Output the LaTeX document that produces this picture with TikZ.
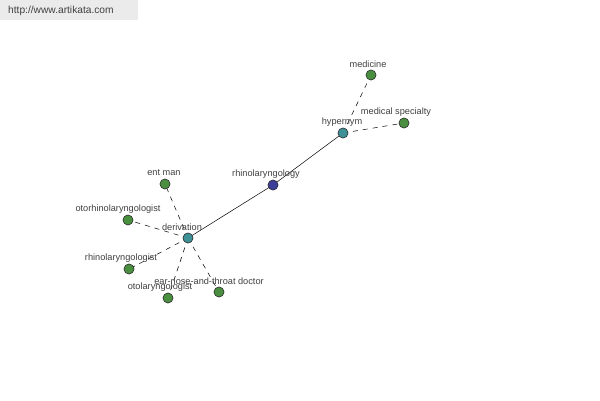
\documentclass[tikz,border=0pt]{standalone}
\usepackage{fontspec}
\setmainfont{Liberation Sans}
\definecolor{leafc}{HTML}{4A8F40}
\definecolor{relc}{HTML}{3E9297}
\definecolor{rootc}{HTML}{3C3E9A}
\definecolor{txtc}{HTML}{404040}
\definecolor{boxc}{HTML}{EBEBEB}
\tikzset{
  dot/.style={circle,draw=black!80,line width=0.5pt,minimum size=10pt,inner sep=0pt},
  leaf/.style={dot,fill=leafc},
  rel/.style={dot,fill=relc},
  root/.style={dot,fill=rootc},
  lbl/.style={text=txtc,font=\fontsize{9.2}{10}\selectfont,inner sep=0pt},
  solidedge/.style={draw=black,line width=0.5pt},
  dashedge/.style={draw=black,line width=0.5pt,dash pattern=on 5pt off 5pt}
}
\begin{document}
\begin{tikzpicture}[x=1pt,y=-1pt]
\useasboundingbox (0,0) rectangle (600,400);
\fill[white] (0,0) rectangle (600,400);
\fill[boxc] (0,0) rectangle (138,20);
\node[text=txtc,font=\fontsize{10.2}{11}\selectfont,anchor=west,inner sep=0pt] (url) at (8,11) {http://www.artikata.com};

\node[leaf] (medicine) at (371,75) {};
\node[leaf] (medspec) at (404,123) {};
\node[rel] (hypernym) at (343,133) {};
\node[root] (rhino) at (273,185) {};
\node[leaf] (entman) at (165,184) {};
\node[leaf] (otorhino) at (128,220) {};
\node[rel] (derivation) at (188,238) {};
\node[leaf] (rhinologist) at (129,269) {};
\node[leaf] (otolaryn) at (168,298) {};
\node[leaf] (ent) at (219,292) {};

\path[solidedge] (derivation.center) -- (rhino.center) -- (hypernym.center);
\path[dashedge] (hypernym.center) -- (medicine.center);
\path[dashedge] (hypernym.center) -- (medspec.center);
\path[dashedge] (derivation.center) -- (entman.center);
\path[dashedge] (derivation.center) -- (otorhino.center);
\path[dashedge] (derivation.center) -- (rhinologist.center);
\path[dashedge] (derivation.center) -- (otolaryn.center);
\path[dashedge] (derivation.center) -- (ent.center);

\node[leaf] at (medicine) {};
\node[leaf] at (medspec) {};
\node[rel] at (hypernym) {};
\node[root] at (rhino) {};
\node[leaf] at (entman) {};
\node[leaf] at (otorhino) {};
\node[rel] at (derivation) {};
\node[leaf] at (rhinologist) {};
\node[leaf] at (otolaryn) {};
\node[leaf] at (ent) {};

\node[lbl] (l1) at (368,64) {medicine};
\node[lbl] (l2) at (396,112) {medical specialty};
\node[lbl] (l3) at (342,122) {hypernym};
\node[lbl] (l4) at (266,174) {rhinolaryngology};
\node[lbl] (l5) at (164,173) {ent man};
\node[lbl] (l6) at (118,209) {otorhinolaryngologist};
\node[lbl] (l7) at (182,227) {derivation};
\node[lbl] (l8) at (121,258) {rhinolaryngologist};
\node[lbl] (l9) at (160,287) {otolaryngologist};
\node[lbl] (l10) at (209,281) {ear-nose-and-throat doctor};
\end{tikzpicture}
\end{document}
